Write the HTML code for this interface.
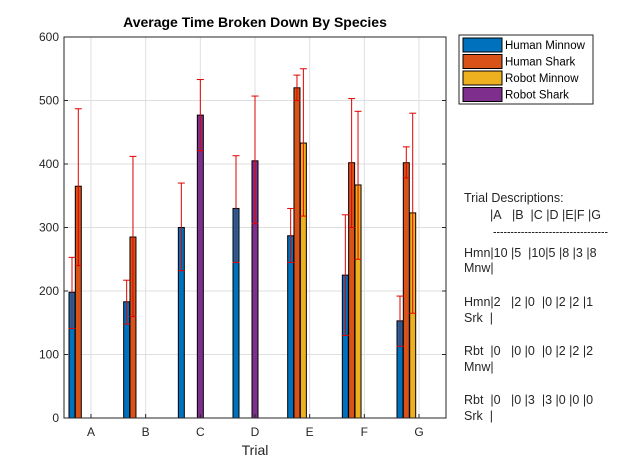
<!DOCTYPE html>
<html><head><meta charset="utf-8"><style>
body{margin:0;background:#fff;font-family:"Liberation Sans",sans-serif}
</style></head><body>
<svg id="chart" width="641" height="469" xmlns="http://www.w3.org/2000/svg" font-family="Liberation Sans, sans-serif">
<rect width="641" height="469" fill="#fff"/>
<rect x="64" y="37" width="382" height="381" fill="#fff"/>
<g id="grid"></g>
<g id="bars"></g>
<g id="errs"></g>
<rect x="64" y="37" width="382" height="381" fill="none" stroke="#262626" stroke-width="1"/>
<g id="ticks"></g>
<text x="255" y="27" text-anchor="middle" font-size="14" font-weight="bold" fill="#000">Average Time Broken Down By Species</text>
<text x="255" y="455" text-anchor="middle" font-size="14" fill="#262626">Trial</text>
<g>
<rect x="459" y="35" width="134" height="69" fill="#fff" stroke="#262626"/>
<g id="legend"></g>
</g>
<g font-size="12.5" fill="#262626">
<text x="464" y="202">Trial Descriptions:</text>
<text x="490" y="219">|A&#160;&#160;&#160;|B&#160;&#160;|C |D |E|F |G</text>
<text x="493" y="236" textLength="115" lengthAdjust="spacingAndGlyphs">---------------------------------</text>
<text x="464" y="257">Hmn|10 |5&#160;&#160;|10|5 |8 |3 |8</text>
<text x="464" y="272">Mnw|</text>
<text x="464" y="306">Hmn|2&#160;&#160;&#160;|2 |0&#160;&#160;|0 |2 |2 |1</text>
<text x="464" y="322">Srk&#160;&#160;|</text>
<text x="464" y="355">Rbt&#160;&#160;|0&#160;&#160;&#160;|0 |0&#160;&#160;|0 |2 |2 |2</text>
<text x="464" y="371">Mnw|</text>
<text x="464" y="404">Rbt&#160;&#160;|0&#160;&#160;&#160;|0 |3&#160;&#160;|3 |0 |0 |0</text>
<text x="464" y="420">Srk&#160;&#160;|</text>
</g>
</svg>
<script>
const categories=["A","B","C","D","E","F","G"];
const seriesNames=["Human Minnow","Human Shark","Robot Minnow","Robot Shark"];
const humanMinnow=[198,183,300,330,287,225,153];
const humanShark=[365,285,0,0,520,402,402];
const robotMinnow=[0,0,0,0,433,367,323];
const robotShark=[0,0,477,405,0,0,0];
const hmLow=[141,148,232,245,245,130,113], hmHigh=[253,217,370,413,330,320,192];
const hsLow=[240,160,null,null,500,300,378], hsHigh=[487,412,null,null,540,503,427];
const rmLow=[null,null,null,null,318,250,165], rmHigh=[null,null,null,null,550,483,480];
const rsLow=[null,null,421,306,null,null,null], rsHigh=[null,null,533,507,null,null,null];
const yTicks=[0,100,200,300,400,500,600];
const colors=["#0072BD","#D95319","#EDB120","#7E2F8E"];
const NS="http://www.w3.org/2000/svg";
const X0=64,X1=446,Y0=418,Y1=37;
const y=v=>Y0-(v/600)*(Y0-Y1);
const xc=i=>91+i*(419-91)/6;
const offs=[-19,-12.7,-6.3,0],bw=6;
function mk(t,a,p){const e=document.createElementNS(NS,t);for(const k in a)e.setAttribute(k,a[k]);p.appendChild(e);return e;}
const grid=document.getElementById('grid'),ticks=document.getElementById('ticks');
yTicks.forEach(v=>{
 const g=mk('line',{x1:X0,x2:X1,y1:y(v),y2:y(v),stroke:'#dfdfdf'},grid);
 
 
 mk('line',{x1:X0,x2:X0+4,y1:y(v),y2:y(v),stroke:'#262626'},ticks);
 mk('line',{x1:X1-4,x2:X1,y1:y(v),y2:y(v),stroke:'#262626'},ticks);
 const t=mk('text',{x:X0-5,y:y(v)+4,'text-anchor':'end','font-size':12,fill:'#262626'},ticks);
 t.textContent=v;
 
 
});
categories.forEach((c,i)=>{
 const g=mk('line',{x1:xc(i),x2:xc(i),y1:Y1,y2:Y0,stroke:'#dfdfdf'},grid);
 
 
 mk('line',{x1:xc(i),x2:xc(i),y1:Y0,y2:Y0-4,stroke:'#262626'},ticks);
 const t=mk('text',{x:xc(i),y:436,'text-anchor':'middle','font-size':12,fill:'#262626'},ticks);
 t.textContent=c;
 
 
});
const series=[humanMinnow,humanShark,robotMinnow,robotShark];
const lows=[hmLow,hsLow,rmLow,rsLow],highs=[hmHigh,hsHigh,rmHigh,rsHigh];
const bars=document.getElementById('bars'),errs=document.getElementById('errs');
series.forEach((s,si)=>{
 s.forEach((v,i)=>{
  if(!v)return;
  const cx=xc(i)+offs[si];
  const r=mk('rect',{x:cx-bw/2,y:y(v),width:bw,height:Y0-y(v),fill:colors[si],stroke:'#000','stroke-width':1},bars);
  
  
  const lo=lows[si][i],hi=highs[si][i];
  if(lo==null)return;
  const g=mk('g',{stroke:'#e00000','stroke-width':1},errs);
  
  
  mk('line',{x1:cx,x2:cx,y1:y(lo),y2:y(hi)},g);
  mk('line',{x1:cx-3.5,x2:cx+3.5,y1:y(lo),y2:y(lo)},g);
  mk('line',{x1:cx-3.5,x2:cx+3.5,y1:y(hi),y2:y(hi)},g);
 });
});
const leg=document.getElementById('legend');
seriesNames.forEach((n,i)=>{
 const yy=38+i*16.5;
 const r=mk('rect',{x:463,y:yy,width:39,height:14,fill:colors[i],stroke:'#000'},leg);
 
 
 const t=mk('text',{x:505,y:yy+11,'font-size':11.5,fill:'#000'},leg);
 t.textContent=n;
 
 
});
</script>
</body></html>
